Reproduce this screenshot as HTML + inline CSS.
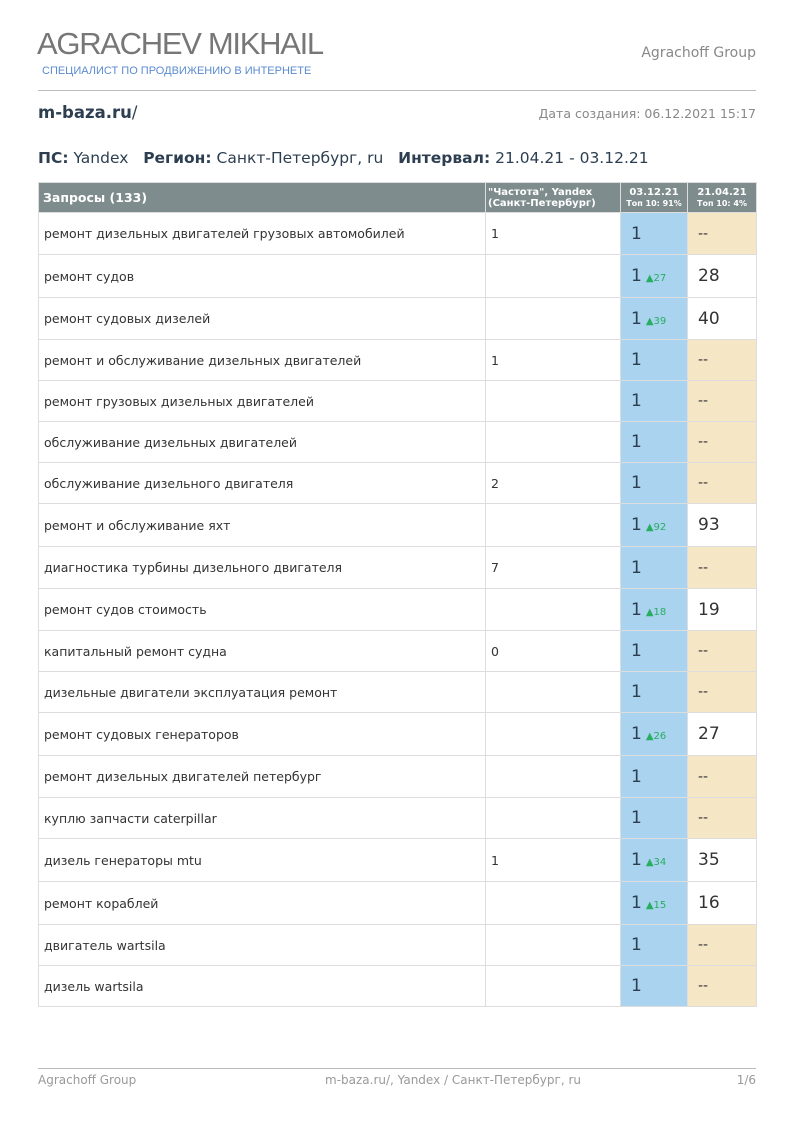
<!DOCTYPE html>
<html><head><meta charset="utf-8"><style>
*{margin:0;padding:0;box-sizing:border-box}
body{width:794px;height:1123px;background:#fff;position:relative;font-family:"DejaVu Sans","Liberation Sans",sans-serif;color:#2c3e50;overflow:hidden}
.a{position:absolute;white-space:nowrap}
table{position:absolute;left:38px;top:182px;width:718px;border-collapse:collapse;table-layout:fixed}
td{border:1px solid #ddd;font-size:12.5px;padding:0 5px;vertical-align:middle;color:#333}
th{background:#7f8c8d;color:#fff;font-size:10px;font-weight:bold;border:1px solid #ddd;height:30px;line-height:11px}
td.b{background:#a9d3ef;font-size:17px;color:#2c3e50;padding-left:10px}
td.y{background:#f5e6c6;font-size:14px;padding-left:10px}
td.w{font-size:17px;padding-left:10px}
.g{font-size:10px;color:#27ae60;margin-left:4px}
</style></head><body>
<div class="a" style="left:37px;top:26px;font-family:'Liberation Sans',sans-serif;font-size:31px;color:#777;letter-spacing:-1.3px">AGRACHEV MIKHAIL</div>
<div class="a" style="left:42px;top:65px;font-family:'Liberation Sans',sans-serif;font-size:11px;color:#5b8bd0">СПЕЦИАЛИСТ ПО ПРОДВИЖЕНИЮ В ИНТЕРНЕТЕ</div>
<div class="a" style="right:38px;top:45px;font-size:14px;color:#888">Agrachoff Group</div>
<div class="a" style="left:38px;top:90px;width:718px;border-top:1px solid #bbb"></div>
<div class="a" style="left:38px;top:103px;font-size:16.5px;font-weight:bold">m-baza.ru<span style="font-weight:normal">/</span></div>
<div class="a" style="right:38px;top:106px;font-size:12.5px;color:#888">Дата создания: 06.12.2021 15:17</div>
<div class="a" style="left:38px;top:149px;font-size:15.5px"><b>ПС:</b> Yandex &nbsp; <b>Регион:</b> Санкт-Петербург, ru &nbsp; <b>Интервал:</b> 21.04.21 - 03.12.21</div>
<table>
<colgroup><col style="width:447px"><col style="width:135px"><col style="width:67px"><col style="width:69px"></colgroup>
<tr><th style="text-align:left;font-size:12.5px;padding-left:4px">Запросы (133)</th><th style="text-align:left;padding-left:2px">"Частота", Yandex<br>(Санкт-Петербург)</th><th>03.12.21<br><span style="font-size:8px">Топ 10: 91%</span></th><th>21.04.21<br><span style="font-size:8px">Топ 10: 4%</span></th></tr>
<tr style="height:42px"><td>ремонт дизельных двигателей грузовых автомобилей</td><td>1</td><td class="b">1</td><td class="y">--</td></tr>
<tr style="height:43px"><td>ремонт судов</td><td></td><td class="b">1<span class="g">▲27</span></td><td class="w">28</td></tr>
<tr style="height:42px"><td>ремонт судовых дизелей</td><td></td><td class="b">1<span class="g">▲39</span></td><td class="w">40</td></tr>
<tr style="height:41px"><td>ремонт и обслуживание дизельных двигателей</td><td>1</td><td class="b">1</td><td class="y">--</td></tr>
<tr style="height:41px"><td>ремонт грузовых дизельных двигателей</td><td></td><td class="b">1</td><td class="y">--</td></tr>
<tr style="height:41px"><td>обслуживание дизельных двигателей</td><td></td><td class="b">1</td><td class="y">--</td></tr>
<tr style="height:41px"><td>обслуживание дизельного двигателя</td><td>2</td><td class="b">1</td><td class="y">--</td></tr>
<tr style="height:43px"><td>ремонт и обслуживание яхт</td><td></td><td class="b">1<span class="g">▲92</span></td><td class="w">93</td></tr>
<tr style="height:42px"><td>диагностика турбины дизельного двигателя</td><td>7</td><td class="b">1</td><td class="y">--</td></tr>
<tr style="height:42px"><td>ремонт судов стоимость</td><td></td><td class="b">1<span class="g">▲18</span></td><td class="w">19</td></tr>
<tr style="height:41px"><td>капитальный ремонт судна</td><td>0</td><td class="b">1</td><td class="y">--</td></tr>
<tr style="height:41px"><td>дизельные двигатели эксплуатация ремонт</td><td></td><td class="b">1</td><td class="y">--</td></tr>
<tr style="height:43px"><td>ремонт судовых генераторов</td><td></td><td class="b">1<span class="g">▲26</span></td><td class="w">27</td></tr>
<tr style="height:42px"><td>ремонт дизельных двигателей петербург</td><td></td><td class="b">1</td><td class="y">--</td></tr>
<tr style="height:41px"><td>куплю запчасти caterpillar</td><td></td><td class="b">1</td><td class="y">--</td></tr>
<tr style="height:43px"><td>дизель генераторы mtu</td><td>1</td><td class="b">1<span class="g">▲34</span></td><td class="w">35</td></tr>
<tr style="height:43px"><td>ремонт кораблей</td><td></td><td class="b">1<span class="g">▲15</span></td><td class="w">16</td></tr>
<tr style="height:41px"><td>двигатель wartsila</td><td></td><td class="b">1</td><td class="y">--</td></tr>
<tr style="height:41px"><td>дизель wartsila</td><td></td><td class="b">1</td><td class="y">--</td></tr>
</table>
<div class="a" style="left:38px;top:1068px;width:718px;border-top:1px solid #bbb"></div>
<div class="a" style="left:38px;top:1073px;font-size:12px;color:#999">Agrachoff Group</div>
<div class="a" style="left:325px;top:1073px;font-size:12px;color:#999">m-baza.ru/, Yandex / Санкт-Петербург, ru</div>
<div class="a" style="right:38px;top:1073px;font-size:12px;color:#999">1/6</div>
</body></html>
